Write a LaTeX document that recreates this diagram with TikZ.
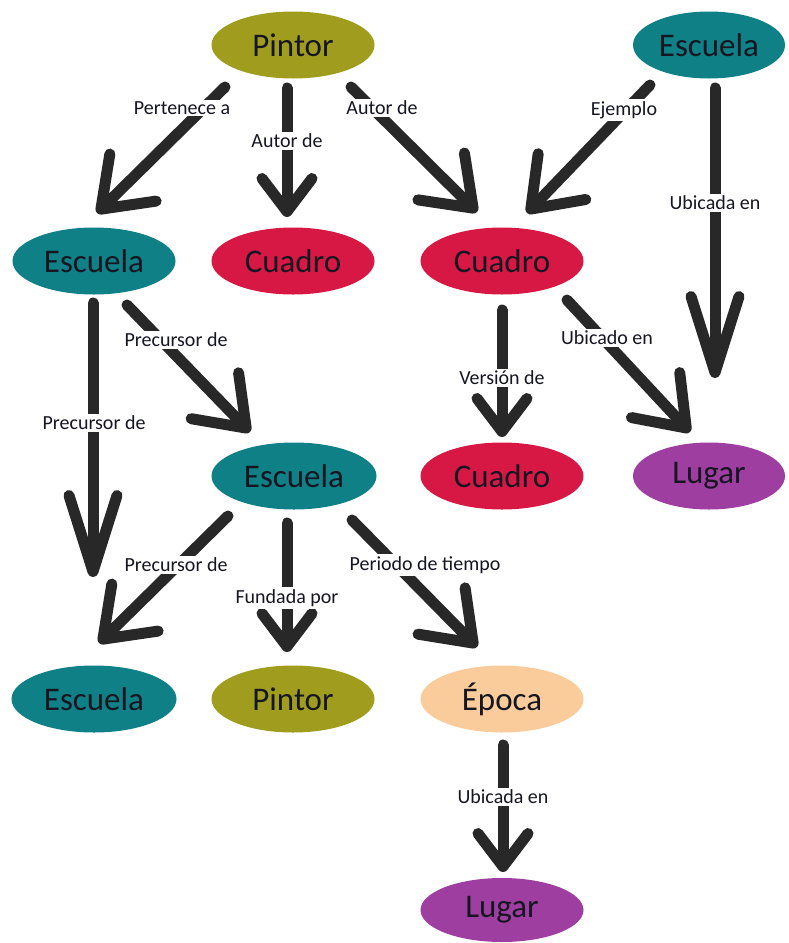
\documentclass[tikz,border=0pt]{standalone}
\usepackage{fontspec}
\setmainfont{Carlito}
\usetikzlibrary{arrows.meta,shapes.geometric,calc}

\definecolor{pintorfill}{RGB}{160,157,30}
\definecolor{escuelafill}{RGB}{14,128,134}
\definecolor{cuadrofill}{RGB}{216,24,68}
\definecolor{lugarfill}{RGB}{158,62,160}
\definecolor{epocafill}{RGB}{251,204,155}
\definecolor{arrowgray}{RGB}{40,40,40}
\definecolor{inkdark}{RGB}{22,22,34}

\begin{document}
\begin{tikzpicture}[x=1pt,y=-1pt,
  concept/.style={ellipse, minimum width=163pt, minimum height=67pt, inner sep=0pt,
                  font=\fontsize{33}{38}\selectfont, text=inkdark},
  pintor/.style={concept, fill=pintorfill},
  escuela/.style={concept, fill=escuelafill},
  cuadro/.style={concept, fill=cuadrofill},
  lugar/.style={concept, fill=lugarfill},
  epoca/.style={concept, fill=epocafill},
  link/.style={draw=arrowgray, line width=11pt, line cap=round},
  shortarr/.style={link, -{Straight Barb[length=33pt,width=50pt,round]}},
  diagarr/.style={link, -{Straight Barb[length=45pt,width=66pt,round]}},
  longarr/.style={link, -{Straight Barb[length=76pt,width=48pt,round]}},
  lbl/.style={fill=white, inner sep=2pt, font=\fontsize{20}{24}\selectfont, text=inkdark}
]
\useasboundingbox[fill=white] (0,0) rectangle (789,943);

% concepts
\node[pintor]  (p1) at (293,45)  {Pintor};
\node[escuela, minimum width=152pt] (s1) at (709,45) {Escuela};
\node[escuela] (e1) at (94,261)  {Escuela};
\node[cuadro]  (c1) at (293,261) {Cuadro};
\node[cuadro]  (c2) at (502,261) {Cuadro};
\node[escuela, minimum width=165pt] (e2) at (294,476) {Escuela};
\node[cuadro]  (c3) at (502,476) {Cuadro};
\node[lugar, minimum width=152pt] (l1) at (709,476) {Lugar};
\node[escuela, minimum width=165pt] (e3) at (94,699) {Escuela};
\node[pintor]  (p2) at (293,699) {Pintor};
\node[epoca]   (t1) at (502,699) {Época};
\node[lugar, minimum height=64pt] (l2) at (502,910) {Lugar};

% relations
\draw[diagarr]  ($(p1)+(-68,42)$) -- ($(e1)+(3,-48)$);
\draw[shortarr] ($(p1)+(-6,43)$)  -- ($(c1)+(-6,-44)$);
\draw[diagarr]  ($(p1)+(58,42)$)  -- ($(c2)+(-25,-49)$);
\draw[diagarr]  ($(s1)+(-59,40)$) -- ($(c2)+(25,-48)$);
\draw[longarr]  ($(s1)+(6,43)$)   -- ($(l1)+(6,-98)$);
\draw[shortarr] ($(c2)+(0,49)$)   -- ($(c3)+(0,-39)$);
\draw[diagarr]  ($(c2)+(65,39)$)  -- ($(l1)+(-19,-44)$);
\draw[diagarr]  ($(e1)+(33,44)$)  -- ($(e2)+(-44,-44)$);
\draw[longarr]  ($(e1)+(-1,42)$)  -- ($(e3)+(-1,-122)$);
\draw[diagarr]  ($(e2)+(-66,40)$) -- ($(e3)+(5,-56)$);
\draw[shortarr] ($(e2)+(-7,47)$)  -- ($(p2)+(-6,-47)$);
\draw[diagarr]  ($(e2)+(58,44)$)  -- ($(t1)+(-25,-52)$);
\draw[shortarr] ($(t1)+(1,46)$)   -- ($(l2)+(1,-38)$);

% relation labels
\node[lbl] (r1)  at (182,108) {Pertenece a};
\node[lbl] (r2)  at (287,141) {Autor de};
\node[lbl] (r3)  at (382,108) {Autor de};
\node[lbl] (r4)  at (624,110) {Ejemplo};
\node[lbl] (r5)  at (715,203) {Ubicada en};
\node[lbl] (r6)  at (502,378) {Versión de};
\node[lbl] (r7)  at (607,338) {Ubicado en};
\node[lbl] (r8)  at (176,340) {Precursor de};
\node[lbl] (r9)  at (94,423)  {Precursor de};
\node[lbl] (r10) at (176,565) {Precursor de};
\node[lbl] (r11) at (287,598) {Fundada por};
\node[lbl] (r12) at (425,565) {Periodo de tiempo};
\node[lbl] (r13) at (503,797) {Ubicada en};
\end{tikzpicture}
\end{document}
